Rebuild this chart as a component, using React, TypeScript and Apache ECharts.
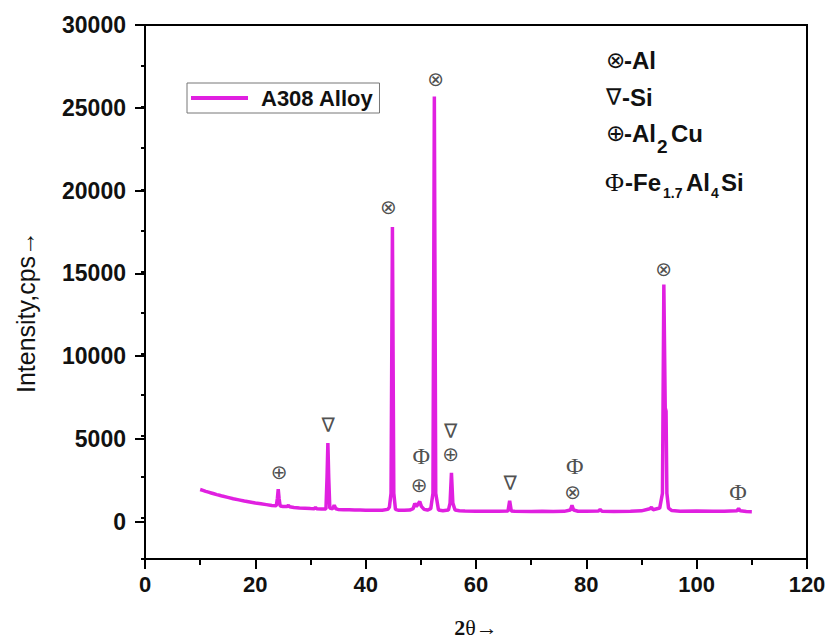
import React, { useEffect, useRef } from "react";
import * as echarts from "echarts";

const twoTheta = [
  10, 10.5, 11, 11.5, 12, 12.5, 13, 13.5, 14, 15, 16, 17, 18, 19, 20, 21, 22, 23, 23.8, 24.0, 24.15, 24.3, 24.5,
  25, 25.8, 26.0, 26.2, 27, 28, 29, 30, 30.7, 30.9, 31.1, 32, 32.8, 33.0, 33.15, 33.3, 33.5, 34.0, 34.3, 34.6,
  35, 36, 37, 38, 39, 40, 41, 42, 43, 44, 44.3, 44.6, 44.85, 45.1, 45.4, 46, 47, 48, 48.6, 48.9, 49.2, 49.6,
  49.8, 50.1, 50.6, 51.2, 51.8, 52.2, 52.45, 52.7, 53.2, 54, 55, 55.3, 55.55, 55.8, 56.2, 57, 58, 60, 62, 64,
  65.8, 66.1, 66.4, 67, 70, 72, 74, 76, 77.1, 77.4, 77.7, 78.5, 80, 82.2, 82.5, 82.8, 85, 88, 90, 91.5, 91.8,
  92.1, 93.3, 93.8, 94.05, 94.3, 94.45, 94.6, 94.9, 95.5, 97, 100, 103, 105, 107.3, 107.6, 107.9, 109, 110,
];
const intensity = [
  1730, 1680, 1620, 1570, 1520, 1470, 1420, 1380, 1330, 1250, 1170, 1100, 1030, 970, 910, 860, 810, 760, 740, 1200, 1750, 1200, 720,
  700, 690, 780, 680, 640, 610, 590, 570, 560, 640, 560, 540, 540, 2500, 4550, 2500, 600, 560, 780, 560,
  520, 500, 490, 480, 480, 470, 470, 460, 470, 520, 650, 1500, 17700, 1500, 520, 460, 460, 480, 560, 880, 700, 900,
  1000, 700, 520, 480, 560, 1500, 25650, 1500, 480, 440, 480, 900, 2750, 900, 480, 440, 420, 410, 400, 400,
  420, 1050, 420, 400, 390, 400, 390, 400, 480, 760, 480, 410, 400, 420, 520, 410, 390, 410, 430, 560, 650,
  500, 600, 1500, 14200, 6700, 6500, 1500, 600, 450, 410, 420, 400, 400, 430, 570, 430, 390, 380,
];

// Phase markers above the peaks
const markX = [24.3, 33.2, 50.1, 49.7, 55.4, 55.4, 66.2, 77.9, 77.5, 107.5, 52.7, 44.1, 94.0];
const markY = [2820, 5630, 3780, 2010, 5290, 3880, 2130, 3140, 1570, 1570, 26700, 18900, 15180];
const markSym = ["⊕", "∇", "Φ", "⊕", "∇", "⊕", "∇", "Φ", "⊗", "Φ", "⊗", "⊗", "⊗"];

// axis ranges
const xMin = 0;
const xMax = 120;
const xStep = 20;
const yMin = -2500;
const yMax = 30000;
const yStep = 5000;

const seriesName = "A308 Alloy";
const yName = "Intensity,cps→";

export default function App() {
  const ref = useRef<HTMLDivElement>(null);

  useEffect(() => {
    if (!ref.current) return;
    const chart = echarts.init(ref.current, undefined, { renderer: "svg" });
    const lineData = twoTheta.map((x, i) => [x, intensity[i]]);
    const marks = markX.map((x, i) => ({ value: [x, markY[i]], name: markSym[i] }));

    // layout of the plotting box
    const H = 643;
    const gTop = 25;
    const gBottom = 80;
    const plotH = H - gTop - gBottom;
    const zeroBottom = gBottom + ((0 - yMin) / (yMax - yMin)) * plotH; // grid for the 0..30000 ticks

    const tickFont = {
      fontFamily: "Liberation Sans",
      fontWeight: "bold" as const,
      fontSize: 22,
      color: "#111",
      formatter: (v: number) => String(v),
    };
    const bold = "bold 24px 'Liberation Sans'";
    const symFont = "23px 'DejaVu Sans'";
    const txt = (x: number, y: number, text: string, font: string) => ({
      type: "text",
      x,
      y,
      style: { text, font, fill: "#111", textAlign: "left", textVerticalAlign: "middle" },
    });
    const axLine = { color: "#000", width: 2 };

    chart.setOption({
      animation: false,
      backgroundColor: "#fff",
      grid: [
        {
          left: 145,
          right: 22,
          top: gTop,
          bottom: gBottom,
          show: true,
          borderColor: "#000",
          borderWidth: 2,
        },
        {
          left: 145,
          right: 22,
          top: gTop,
          bottom: zeroBottom,
          show: false,
        },
      ],
      legend: {
        data: [seriesName],
        left: 187,
        top: 83,
        orient: "horizontal",
        selectedMode: false,
        icon: "rect",
        borderColor: "#777",
        borderWidth: 1,
        padding: [4, 6, 4, 4],
        itemWidth: 57,
        itemHeight: 4,
        textStyle: {
          fontFamily: "Liberation Sans",
          fontWeight: "bold",
          fontSize: 22,
          color: "#111",
          padding: [0, 0, 0, 8],
        },
      },
      xAxis: [
        {
          type: "value",
          gridIndex: 0,
          min: xMin,
          max: xMax,
          interval: xStep,
          name: "{b|2}{r|θ→}",
          nameLocation: "middle",
          nameGap: 57,
          nameTextStyle: {
            rich: {
              b: { fontFamily: "Liberation Serif", fontWeight: "bold", fontSize: 22, color: "#111" },
              r: { fontFamily: "Liberation Serif", fontSize: 22, color: "#111" },
            },
          },
          axisLine: { show: true, onZero: false, lineStyle: axLine },
          axisTick: { show: true, length: 10, lineStyle: axLine },
          minorTick: { show: true, splitNumber: 2, length: 6, lineStyle: axLine },
          axisLabel: { ...tickFont, margin: 14 },
          splitLine: { show: false },
          minorSplitLine: { show: false },
        },
        {
          type: "value",
          gridIndex: 1,
          min: xMin,
          max: xMax,
          show: false,
        },
      ],
      yAxis: [
        {
          type: "value",
          gridIndex: 0,
          min: yMin,
          max: yMax,
          interval: yStep / 2,
          axisLine: { show: true, onZero: false, lineStyle: axLine },
          axisTick: { show: true, length: 4, lineStyle: axLine },
          axisLabel: { show: false },
          splitLine: { show: false },
        },
        {
          type: "value",
          gridIndex: 1,
          min: 0,
          max: yMax,
          interval: yStep,
          axisLine: { show: true, onZero: false, lineStyle: { color: "rgba(0,0,0,0)", width: 0 } },
          axisTick: { show: true, length: 10, lineStyle: axLine },
          axisLabel: { ...tickFont, fontSize: 23, margin: 19 },
          splitLine: { show: false },
        },
      ],
      series: [
        {
          name: seriesName,
          type: "line",
          data: lineData,
          xAxisIndex: 0,
          yAxisIndex: 0,
          symbol: "none",
          showSymbol: false,
          color: "#E020E0",
          lineStyle: { color: "#E020E0", width: 3.5 },
          z: 3,
        },
        {
          name: "markers",
          type: "scatter",
          data: marks,
          xAxisIndex: 0,
          yAxisIndex: 0,
          symbolSize: 1,
          itemStyle: { color: "rgba(0,0,0,0)" },
          silent: true,
          label: {
            show: true,
            position: "inside",
            formatter: (p: any) => (p.name === "Φ" ? "{phi|Φ}" : "{s|" + p.name + "}"),
            rich: {
              phi: { fontFamily: "Liberation Serif", fontSize: 24, color: "#222" },
              s: { fontFamily: "DejaVu Sans", fontSize: 20, color: "#222" },
            },
          },
          z: 4,
        },
      ],
      graphic: [
        {
          type: "text",
          x: 26,
          y: 312,
          rotation: Math.PI / 2,
          style: {
            text: yName,
            font: "25px 'Liberation Sans'",
            fill: "#111",
            textAlign: "center",
            textVerticalAlign: "middle",
          },
        },
        txt(606, 60, "⊗", symFont),
        txt(624, 60, "-Al", bold),
        txt(606, 97, "∇", symFont),
        txt(622, 97, "-Si", bold),
        txt(606, 133, "⊕", symFont),
        txt(624, 133, "-Al", bold),
        txt(657, 146, "2", "bold 19px 'Liberation Sans'"),
        txt(671, 133, "Cu", bold),
        txt(605, 182, "Φ", "26px 'Liberation Serif'"),
        txt(625, 182, "-Fe", bold),
        txt(663, 193, "1.7", "bold 14px 'Liberation Sans'"),
        txt(686, 182, "Al", bold),
        txt(711, 193, "4", "bold 14px 'Liberation Sans'"),
        txt(721, 182, "Si", bold),
      ],
    });
    return () => chart.dispose();
  }, []);

  return (
    <div
      ref={ref}
      style={{ position: "absolute", left: 0, top: 0, width: 829, height: 643 }}
    />
  );
}
